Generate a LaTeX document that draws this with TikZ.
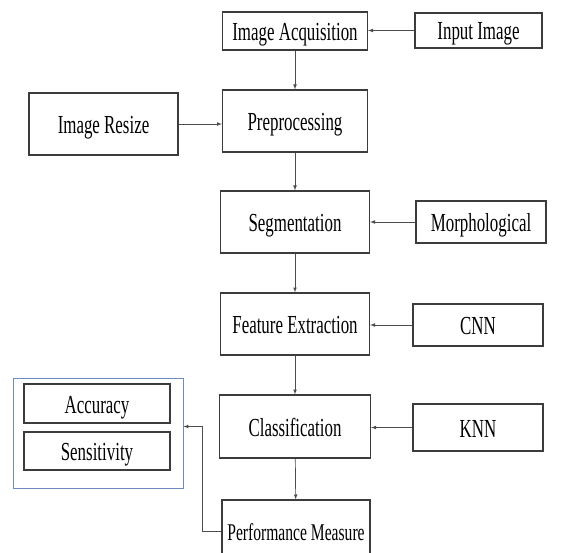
\documentclass[tikz,border=0pt]{standalone}
\usepackage{fontspec}
\setmainfont{Liberation Serif}[FakeStretch=0.65]
\usetikzlibrary{positioning}
\usetikzlibrary{arrows,shapes}
\definecolor{boxgray}{RGB}{60,60,60}
\definecolor{framblue}{RGB}{110,140,190}
\tikzstyle{block}=[rectangle,draw=boxgray,line width=1.2pt,inner sep=0pt,text height=21pt,text depth=2pt,font=\fontsize{26}{28}\selectfont]
\tikzstyle{frame}=[rectangle,draw=framblue,line width=0.9pt,inner sep=0pt]
\tikzstyle{edge} = [draw,line width=0.7pt,draw=black!70,->]

\begin{document}
\begin{tikzpicture}[x=1pt,y=-1pt,>=latex]
    \clip (0,0) rectangle (567,553);

    \foreach \pos/\name/\w/\h/\txt in {{(295,31)/acq/145pt/38pt/Image Acquisition}, {(295,121)/pre/145pt/62pt/Preprocessing}, {(295,222)/seg/149pt/62pt/Segmentation}, {(295,324)/feat/149pt/62pt/Feature Extraction}, {(295,426.5)/cls/151pt/63pt/Classification}}
        \node[block,minimum width=\w,minimum height=\h] (\name) at \pos {\txt};
    \node[block,minimum width=148pt,minimum height=62pt,font=\fontsize{24}{26}\selectfont] (perf) at (296,531) {Performance Measure};

    \foreach \pos/\name/\w/\h/\txt in {{(478.5,30.5)/input/127pt/35pt/Input Image}, {(103.5,124)/resize/149pt/62pt/Image Resize}, {(481,222)/morph/130pt/42pt/Morphological}, {(478,325)/cnn/130pt/42pt/CNN}, {(478,427.5)/knn/130pt/47pt/KNN}}
        \node[block,minimum width=\w,minimum height=\h] (\name) at \pos {\txt};

    % evaluation metrics
    \node[frame,minimum width=170pt,minimum height=110pt] (metrics) at (98,433) {};
    \node[block,minimum width=146pt,minimum height=39pt] (acc) at (97,403.5) {Accuracy};
    \node[block,minimum width=146pt,minimum height=38pt] (sens) at (97,451) {Sensitivity};

    \foreach \source/\dest in {acq/pre, pre/seg, seg/feat, feat/cls, cls/perf}
        \path[edge] (\source) -- (\dest);

    \foreach \source/\dest in {input/acq, morph/seg, cnn/feat, knn/cls}
        \path[edge] (\source) -- (\source -| \dest.east);
    \path[edge] (resize) -- (resize -| pre.west);

    \path[edge] (perf.west) -- ++(-19,0) |- (metrics.east |- cls);

\end{tikzpicture}
\end{document}
